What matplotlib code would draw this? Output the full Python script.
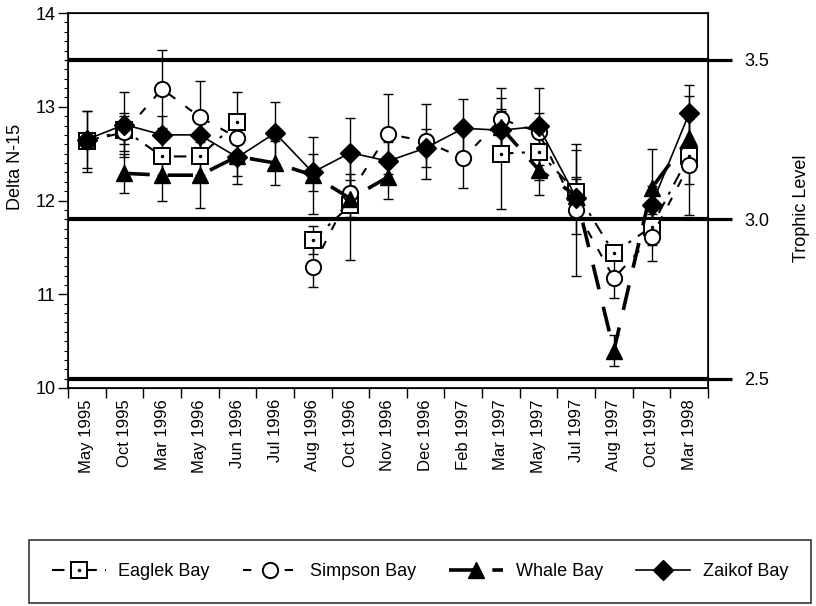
import numpy as np
import matplotlib.pyplot as plt
from matplotlib.lines import Line2D

plt.rcParams['font.family'] = ['Liberation Sans', 'DejaVu Sans']

# sampling dates along the x axis
DATES = ['May 1995', 'Oct 1995', 'Mar 1996', 'May 1996', 'Jun 1996', 'Jul 1996',
         'Aug 1996', 'Oct 1996', 'Nov 1996', 'Dec 1996', 'Feb 1997', 'Mar 1997',
         'May 1997', 'Jul 1997', 'Aug 1997', 'Oct 1997', 'Mar 1998']

nan = np.nan
# mean delta N-15 per bay (nan = not sampled)
eaglek = [12.63, 12.75, 12.47, 12.47, 12.84, nan, 11.58, 11.95, nan, nan, nan,
          12.50, 12.52, 12.09, 11.44, 11.72, 12.48]
simpson = [12.63, 12.73, 13.19, 12.89, 12.67, nan, 11.29, 12.08, 12.71, 12.63, 12.45,
           12.87, 12.73, 11.90, 11.17, 11.61, 12.38]
whale = [nan, 12.29, 12.27, 12.27, 12.47, 12.40, 12.27, 12.02, 12.25, nan, nan,
         12.78, 12.33, 12.05, 10.40, 12.13, 12.67]
zaikof = [12.65, 12.81, 12.70, 12.70, 12.46, 12.72, 12.30, 12.51, 12.42, 12.56, 12.77,
          12.75, 12.79, 12.03, nan, 11.95, 12.93]

# error bar half-widths
eaglek_err = [0.33, 0.15, 0.20, 0.20, 0.32, nan, 0.15, 0.58, nan, nan, nan,
              0.59, 0.30, 0.45, 0.00, 0.20, 0.63]
simpson_err = [0.00, 0.20, 0.42, 0.38, 0.20, nan, 0.21, 0.20, 0.43, 0.40, 0.32,
               0.33, 0.20, 0.70, 0.21, 0.25, 0.20]
whale_err = [nan, 0.21, 0.27, 0.35, 0.29, 0.23, 0.41, 0.20, 0.23, nan, nan,
             0.20, 0.27, 0.20, 0.17, 0.42, 0.20]
zaikof_err = [0.30, 0.35, 0.20, 0.20, 0.20, 0.33, 0.20, 0.37, 0.20, 0.20, 0.31,
              0.20, 0.41, 0.20, nan, 0.20, 0.30]

TROPHIC_TICKS = [2.5, 3.0, 3.5]
BASE_N15 = 11.8   # delta N-15 at trophic level 3
N15_PER_TL = 3.4  # enrichment per trophic level


def n15_from_tl(tl):
    return BASE_N15 + (np.asarray(tl) - 3.0) * N15_PER_TL


def tl_from_n15(d):
    return 3.0 + (np.asarray(d) - BASE_N15) / N15_PER_TL


fig = plt.figure(figsize=(8.16, 6.06), dpi=100)
ax = fig.add_axes([68 / 816, 1 - 388 / 606, 640 / 816, 375 / 606])
x = np.arange(len(DATES))

series = [
    (eaglek, eaglek_err, dict(ls=(0, (6, 4, 1.5, 4)), lw=1.5, marker='s', ms=11,
                              mfc='white', mec='black', mew=1.4)),
    (simpson, simpson_err, dict(ls=(0, (4, 6)), lw=1.5, marker='o', ms=11,
                                mfc='white', mec='black', mew=1.4)),
    (whale, whale_err, dict(ls=(0, (7, 5)), lw=2.6, marker='^', ms=11,
                            mfc='black', mec='black')),
    (zaikof, zaikof_err, dict(ls='-', lw=1.2, marker='D', ms=10,
                              mfc='black', mec='black')),
]

for y, err, style in series:
    ax.errorbar(x, y, yerr=err, fmt='none', ecolor='black', elinewidth=1.0,
                capsize=3.5, capthick=1.0, zorder=2)
for i, (y, err, style) in enumerate(series):
    ax.plot(x, y, color='black', zorder=3 + i, **style)
# centre dot inside the Eaglek squares
ax.plot(x, eaglek, ls='none', marker='.', ms=3, color='black', zorder=3)

# trophic level reference lines
for tl in TROPHIC_TICKS:
    ax.axhline(n15_from_tl(tl), color='black', lw=3, zorder=1)

ax.set_xlim(-0.5, len(DATES) - 0.5)
ax.set_ylim(10, 14)
ax.set_yticks([10, 11, 12, 13, 14])
ax.set_yticks(np.arange(10, 14.01, 0.1), minor=True)
ax.tick_params(axis='y', which='major', length=7, width=1, labelsize=13, pad=2)
ax.tick_params(axis='y', which='minor', length=3, width=0.8)

ax.set_xticks(np.arange(-0.5, len(DATES), 1.0))
ax.set_xticklabels([])
ax.set_xticks(x, minor=True)
ax.set_xticklabels(DATES, minor=True, rotation=90, fontsize=12)
ax.tick_params(axis='x', which='major', length=7, width=1)
ax.tick_params(axis='x', which='minor', length=0, pad=8)

ax.set_ylabel('Delta N-15', fontsize=13)
ax.yaxis.set_label_coords(-0.068, 0.59)
for s in ax.spines.values():
    s.set_linewidth(1.2)

# right-hand trophic level axis
ax2 = ax.twinx()
ax2.set_ylim(tl_from_n15(10), tl_from_n15(14))
ax2.set_yticks(TROPHIC_TICKS)
ax2.set_yticklabels(['%.1f' % t for t in TROPHIC_TICKS])
ax2.tick_params(axis='y', length=17, width=2.3, labelsize=13, pad=9)
ax2.set_ylabel('Trophic Level', fontsize=13)
ax2.yaxis.set_label_coords(1.133, 0.48)

handles = [
    (Line2D([], [], color='black', ls=(0, (6, 4, 1.5, 4)), lw=1.5, marker='s', ms=11,
            mfc='white', mec='black', mew=1.4),
     Line2D([], [], ls='none', marker='.', ms=3, color='black')),
    Line2D([], [], color='black', ls=(0, (4, 6)), lw=1.5, marker='o', ms=11,
           mfc='white', mec='black', mew=1.4),
    Line2D([], [], color='black', ls=(0, (7, 5)), lw=2.6, marker='^', ms=11),
    Line2D([], [], color='black', ls='-', lw=1.2, marker='D', ms=10),
]
labels = ['Eaglek Bay', 'Simpson Bay', 'Whale Bay', 'Zaikof Bay']
leg = fig.legend(handles, labels, loc='center', ncol=4, mode='expand',
                 bbox_to_anchor=(20 / 816, 1 / 606, 800 / 816, 67 / 606),
                 fontsize=13, handlelength=3.0, handletextpad=0.7,
                 frameon=True, fancybox=False, borderpad=1.25)
leg.get_frame().set_edgecolor('black')
leg.get_frame().set_linewidth(1.2)

fig.savefig('out.png', dpi=100)
